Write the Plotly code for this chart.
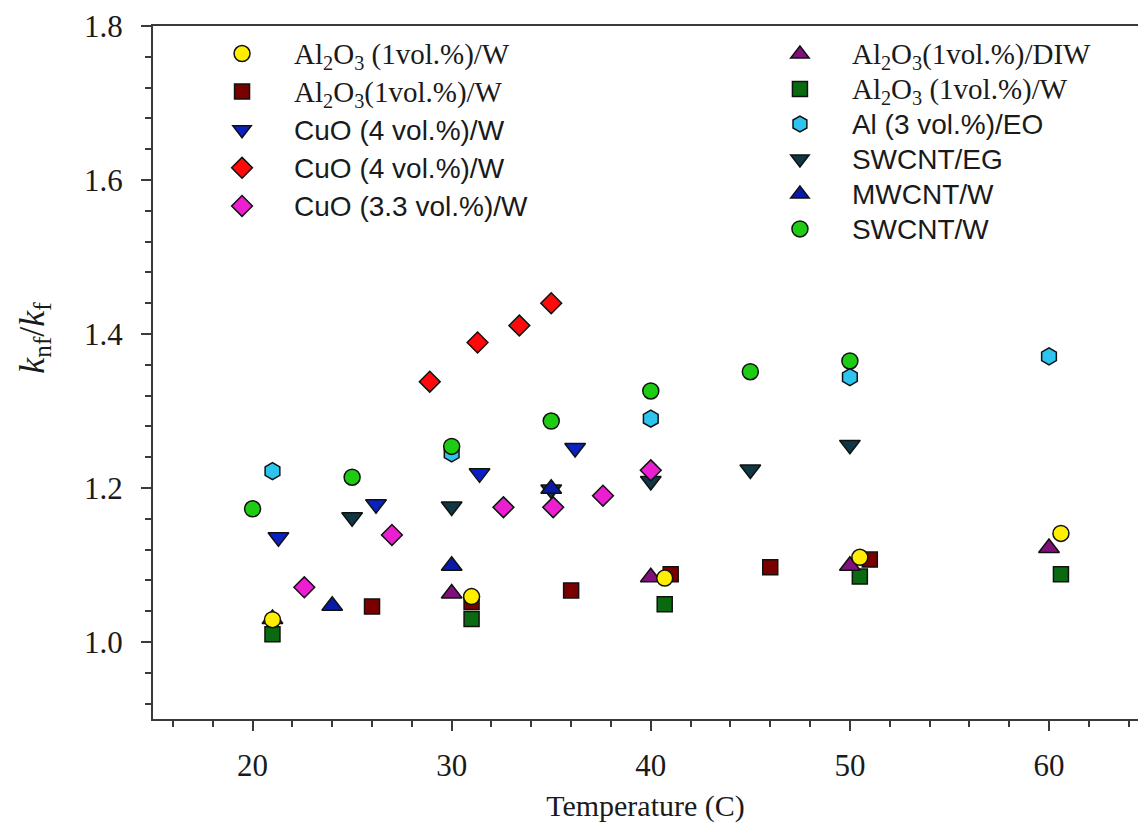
import plotly.graph_objects as go

SERIF = "Liberation Serif"
SANS = "Liberation Sans"

# Thermal conductivity ratio k_nf/k_f versus temperature for several nanofluids
t_al2o3_w_a = [21, 31, 40.7, 50.5, 60.6]
k_al2o3_w_a = [1.029, 1.059, 1.083, 1.110, 1.141]

t_al2o3_w_b = [26, 31, 36, 41, 46, 51]
k_al2o3_w_b = [1.046, 1.052, 1.067, 1.088, 1.097, 1.107]

t_cuo4_a = [21.3, 26.2, 31.4, 36.2]
k_cuo4_a = [1.136, 1.179, 1.219, 1.252]

t_cuo4_b = [28.9, 31.3, 33.4, 35.0]
k_cuo4_b = [1.338, 1.389, 1.411, 1.440]

t_cuo33 = [22.6, 27.0, 32.6, 35.1, 37.6, 40.0]
k_cuo33 = [1.071, 1.139, 1.175, 1.175, 1.190, 1.223]

t_al2o3_diw = [21, 30, 40, 50, 60]
k_al2o3_diw = [1.030, 1.063, 1.084, 1.099, 1.122]

t_al2o3_w_c = [21, 31, 40.7, 50.5, 60.6]
k_al2o3_w_c = [1.010, 1.030, 1.049, 1.085, 1.088]

t_al_eo = [21, 30, 40, 50, 60]
k_al_eo = [1.222, 1.245, 1.290, 1.344, 1.371]

t_swcnt_eg = [25, 30, 35, 40, 45, 50]
k_swcnt_eg = [1.162, 1.176, 1.198, 1.209, 1.224, 1.256]

t_mwcnt_w = [24, 30, 35]
k_mwcnt_w = [1.047, 1.099, 1.199]

t_swcnt_w = [20, 25, 30, 35, 40, 45, 50]
k_swcnt_w = [1.173, 1.214, 1.254, 1.287, 1.326, 1.351, 1.365]


def serif(s):
    return f'<span style="font-family:{SERIF};font-size:29px">{s}</span>'


def sans(s):
    return f'<span style="font-size:28px">{s}</span>'


AL2O3 = "Al<sub>2</sub>O<sub>3</sub>"

# (name, x, y, symbol, fill, size, legend, rank) -- listed in drawing order
series = [
    (sans("SWCNT/EG"), t_swcnt_eg, k_swcnt_eg, "triangle-down", "#0f3844", 18, "legend2", 4),
    (sans("Al (3 vol.%)/EO"), t_al_eo, k_al_eo, "hexagon", "#2ec4f0", 17, "legend2", 3),
    (sans("SWCNT/W"), t_swcnt_w, k_swcnt_w, "circle", "#1fcc14", 16, "legend2", 6),
    (serif(AL2O3 + " (1vol.%)/W"), t_al2o3_w_c, k_al2o3_w_c, "square", "#0a6a10", 15, "legend2", 2),
    (serif(AL2O3 + "(1vol.%)/W"), t_al2o3_w_b, k_al2o3_w_b, "square", "#7a0000", 15, "legend", 2),
    (serif(AL2O3 + "(1vol.%)/DIW"), t_al2o3_diw, k_al2o3_diw, "triangle-up", "#80107c", 18, "legend2", 1),
    (sans("MWCNT/W"), t_mwcnt_w, k_mwcnt_w, "triangle-up", "#0a1aa8", 18, "legend2", 5),
    (sans("CuO (4 vol.%)/W"), t_cuo4_a, k_cuo4_a, "triangle-down", "#0a22c4", 18, "legend", 3),
    (sans("CuO (4 vol.%)/W"), t_cuo4_b, k_cuo4_b, "diamond", "#ff0a0a", 16, "legend", 4),
    (sans("CuO (3.3 vol.%)/W"), t_cuo33, k_cuo33, "diamond", "#ec1ed2", 16, "legend", 5),
    (serif(AL2O3 + " (1vol.%)/W"), t_al2o3_w_a, k_al2o3_w_a, "circle", "#ffee00", 16, "legend", 1),
]

fig = go.Figure()
for name, xs, ys, sym, fill, size, leg, rank in series:
    fig.add_trace(go.Scatter(
        x=xs, y=ys, mode="markers", name=name,
        legend=leg, legendrank=rank,
        marker=dict(symbol=sym, size=size, color=fill,
                    line=dict(color="#111111", width=1.5)),
    ))

axis_line = "#3a3a3a"
fig.update_xaxes(
    range=[15, 64.47], tick0=0, dtick=10,
    showline=True, linecolor=axis_line, linewidth=2, mirror=True,
    ticks="outside", ticklen=10, tickwidth=2, tickcolor=axis_line,
    minor=dict(dtick=2, tick0=0, ticks="outside", ticklen=6, tickwidth=1.5,
               tickcolor=axis_line, showgrid=False),
    showgrid=False, zeroline=False,
    tickfont=dict(family=SERIF, size=31, color="#1a1a1a"),
    ticklabelstandoff=8,
    title=dict(text="Temperature (C)", font=dict(family=SERIF, size=30, color="#1a1a1a"),
               standoff=14),
)
fig.update_yaxes(
    range=[0.9, 1.8], tick0=1.0, dtick=0.2, tickformat=".1f",
    showline=True, linecolor=axis_line, linewidth=2, mirror=False,
    ticks="outside", ticklen=10, tickwidth=2, tickcolor=axis_line,
    minor=dict(dtick=0.04, tick0=1.0, ticks="outside", ticklen=6, tickwidth=1.5,
               tickcolor=axis_line, showgrid=False),
    showgrid=False, zeroline=False,
    tickfont=dict(family=SERIF, size=31, color="#1a1a1a"),
    ticklabelstandoff=12,
)

legend_style = dict(
    bgcolor="rgba(0,0,0,0)", borderwidth=0,
    xanchor="left", yanchor="top", itemwidth=94,
    tracegroupgap=0,
)
fig.update_layout(
    width=1138, height=823,
    margin=dict(l=153, r=0, t=26, b=104),
    paper_bgcolor="white", plot_bgcolor="white",
    legend=dict(x=0.0376, y=0.995,
                font=dict(family=SANS, size=27, color="#1a1a1a"), **legend_style),
    legend2=dict(x=0.604, y=0.992,
                 font=dict(family=SANS, size=24.6, color="#1a1a1a"), **legend_style),
    annotations=[dict(
        text="<i>k</i><sub>nf</sub>/<i>k</i><sub>f</sub>",
        xref="paper", yref="paper", x=-0.12, y=0.55,
        xanchor="center", yanchor="middle", textangle=-90, showarrow=False,
        font=dict(family=SERIF, size=36, color="#1a1a1a"),
    )],
)

fig.write_html("out.html")
